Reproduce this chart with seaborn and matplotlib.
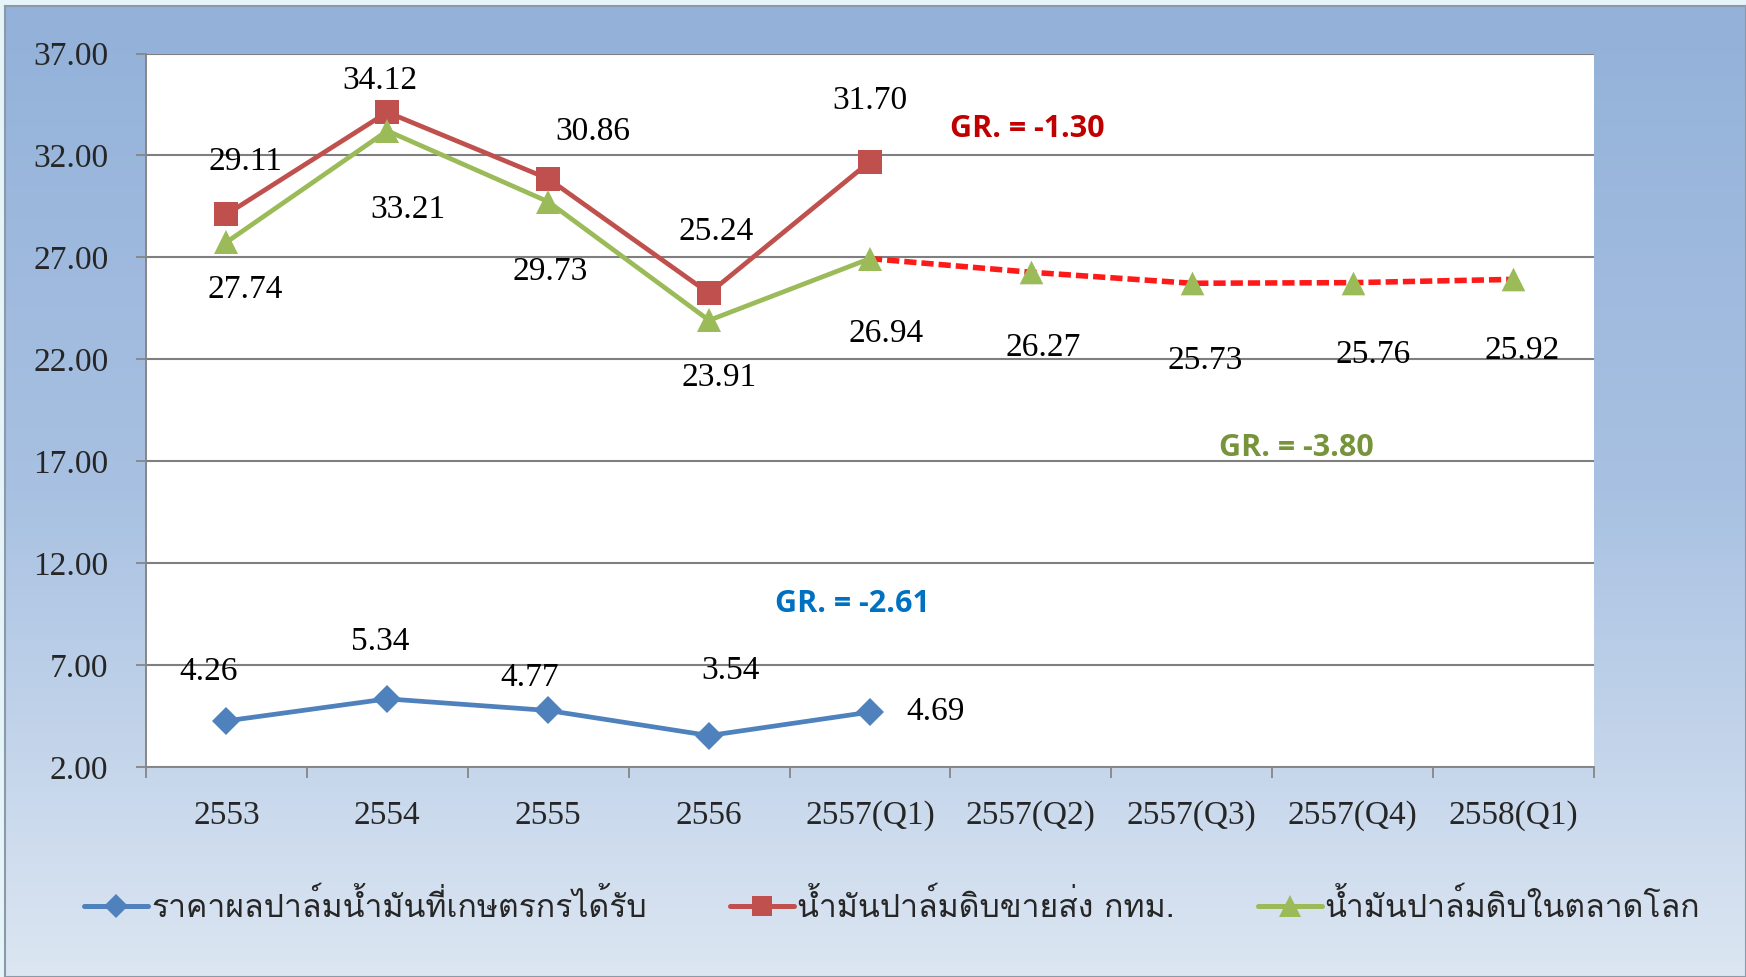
import numpy as np
import pandas as pd
import matplotlib
matplotlib.use("Agg")
import matplotlib.pyplot as plt
from matplotlib import font_manager
from matplotlib.ft2font import FT2Font
from matplotlib.lines import Line2D
from matplotlib.colors import LinearSegmentedColormap
import seaborn as sns

# ข้อมูล
categories = ["2553", "2554", "2555", "2556", "2557(Q1)",
              "2557(Q2)", "2557(Q3)", "2557(Q4)", "2558(Q1)"]
farm_price = [4.26, 5.34, 4.77, 3.54, 4.69]
bkk_cpo = [29.11, 34.12, 30.86, 25.24, 31.70]
world_cpo = [27.74, 33.21, 29.73, 23.91, 26.94, 26.27, 25.73, 25.76, 25.92]
series_names = ["ราคาผลปาล์มน้ำมันที่เกษตรกรได้รับ",
                "น้ำมันปาล์มดิบขายส่ง กทม.",
                "น้ำมันปาล์มดิบในตลาดโลก"]
gr_texts = ["GR. = -1.30", "GR. = -3.80", "GR. = -2.61"]

BLUE, RED, GREEN = "#4F81BD", "#C0504D", "#9BBB59"


def find_thai_font():
    for f in font_manager.fontManager.ttflist:
        try:
            if 0x0E32 in FT2Font(f.fname).get_charmap():
                return f.name
        except Exception:
            pass
    return None


sns.set_theme(style="white")
thai = find_thai_font()
num_font = "Liberation Serif"
plt.rcParams["font.family"] = ([thai] if thai else []) + ["DejaVu Sans"]

fig = plt.figure(figsize=(17.46, 9.77), dpi=100, facecolor="#E4F4F8")

# พื้นหลังไล่สี
bg = fig.add_axes([0.003, 0.0, 0.997, 0.994])
cmap = LinearSegmentedColormap.from_list("bg", ["#93B1D9", "#A8C1E2", "#DCE6F2"])
bg.imshow(np.linspace(0, 1, 256).reshape(-1, 1), cmap=cmap, aspect="auto",
          extent=[0, 1, 0, 1])
bg.set_xticks([]); bg.set_yticks([])
for s in bg.spines.values():
    s.set_color("#8C9AA8"); s.set_linewidth(1.5)

ax = fig.add_axes([0.0836, 0.2150, 0.8293, 0.7302])
ax.set_facecolor("white")

xs = np.arange(len(categories))
df_hist = pd.DataFrame({
    "x": np.tile(xs[:5], 3),
    "value": farm_price + bkk_cpo + world_cpo[:5],
    "series": np.repeat(series_names, 5),
})

# เส้นพยากรณ์ (เส้นประสีแดง)
sns.lineplot(x=xs[4:], y=world_cpo[4:], ax=ax, color="#FF1A1A",
             linewidth=4, dashes=False, linestyle=(0, (2.2, 0.9)), zorder=3)

sns.lineplot(data=df_hist, x="x", y="value", hue="series", style="series",
             palette=[BLUE, RED, GREEN], markers=["D", "s", "^"], dashes=False,
             linewidth=3.4, markersize=17, markeredgewidth=0, ax=ax,
             legend=False, zorder=4)
# ลดขนาดจุดสีน้ำเงิน
for line in ax.get_lines():
    if line.get_marker() == "D":
        line.set_markersize(14)
sns.scatterplot(x=xs[5:], y=world_cpo[5:], ax=ax, marker="^", s=290,
                color=GREEN, linewidth=0, zorder=5)

# ป้ายตัวเลข
lab_kw = dict(textcoords="offset pixels", ha="center", va="center",
              fontsize=24, family=num_font, color="black", zorder=6)
red_off = [(19, 53), (-7, 31), (45, 47), (7, 61), (0, 61)]
green_off = [(19, -47), (21, -79), (2, -70), (10, -57), (16, -75),
             (12, -76), (13, -77), (21, -72), (9, -71)]
blue_off = [(-18, 49), (-7, 57), (-18, 33), (21, 65), (66, 0)]
for x, v, off in zip(xs, bkk_cpo, red_off):
    ax.annotate(f"{v:.2f}", (x, v), xytext=off, **lab_kw)
for x, v, off in zip(xs, world_cpo, green_off):
    ax.annotate(f"{v:.2f}", (x, v), xytext=off, **lab_kw)
for x, v, off in zip(xs, farm_price, blue_off):
    ax.annotate(f"{v:.2f}", (x, v), xytext=off, **lab_kw)

gr_kw = dict(ha="center", va="center", fontsize=22, fontweight="bold",
             family="Open Sans", zorder=6)
ax.text(4.98, 33.29, gr_texts[0], color="#C00000", **gr_kw)
ax.text(6.65, 17.67, gr_texts[1], color="#77933C", **gr_kw)
ax.text(3.89, 9.97, gr_texts[2], color="#0070C0", **gr_kw)

# แกน
ax.set_xlim(-0.5, len(categories) - 0.5)
ax.set_ylim(2, 37)
ax.set_yticks(np.arange(2, 38, 5))
ax.set_yticklabels([f"{t:.2f}" for t in np.arange(2, 38, 5)],
                   family=num_font, fontsize=24)
ax.set_xticks(np.arange(-0.5, len(categories), 1))
ax.set_xticklabels([])
ax.set_xticks(xs, minor=True)
ax.set_xticklabels(categories, minor=True, family=num_font, fontsize=24)
ax.tick_params(axis="x", which="major", direction="out", length=8,
               color="#868686", width=1.3, bottom=True)
ax.tick_params(axis="x", which="minor", length=0, pad=24)
ax.tick_params(axis="y", direction="out", length=7, color="#868686",
               width=1.3, pad=20, left=True)
ax.grid(axis="y", color="#7F7F7F", linewidth=1.5)
ax.grid(axis="x", visible=False)
ax.set_axisbelow(True)
ax.set_xlabel(""); ax.set_ylabel("")
for side in ["top", "right"]:
    ax.spines[side].set_visible(False)
for side in ["left", "bottom"]:
    ax.spines[side].set_color("#868686"); ax.spines[side].set_linewidth(1.4)

handles = [Line2D([], [], color=c, marker=m, linewidth=3.6, markersize=ms,
                  markeredgewidth=0)
           for c, m, ms in [(BLUE, "D", 12), (RED, "s", 15), (GREEN, "^", 16)]]
fig.legend(handles, series_names, loc="center", bbox_to_anchor=(0.511, 0.0716),
           ncol=3, frameon=False, fontsize=23, handlelength=2.0,
           handletextpad=0.1, columnspacing=2.6)

fig.savefig("out.png", dpi=100, facecolor=fig.get_facecolor())
